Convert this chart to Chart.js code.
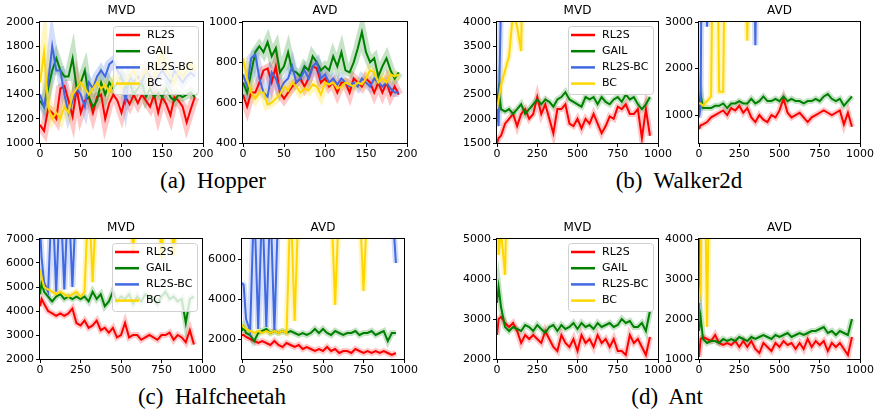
<!DOCTYPE html>
<html>
<head>
<meta charset="utf-8">
<script src="https://cdn.jsdelivr.net/npm/chart.js@4.4.0/dist/chart.umd.min.js"></script>
<style>
body { margin: 0; background: #fff; width: 877px; height: 413px; position: relative; overflow: hidden; }
.panel { position: absolute; }
.cap { position: absolute; font-family: "Liberation Serif", serif; font-size: 23px; line-height: 23px; color: #000; white-space: pre; transform: translateX(-50%); }
</style>
</head>
<body>
<div class="cap" style="left:213px;top:169px">(a)  Hopper</div>
<div class="cap" style="left:679px;top:169px">(b)  Walker2d</div>
<div class="cap" style="left:212px;top:385px">(c)  Halfcheetah</div>
<div class="cap" style="left:667px;top:385px">(d)  Ant</div>
<script>
const SERIES_NAMES = ['RL2S', 'GAIL', 'RL2S-BC', 'BC'];
const SERIES_COLORS = ['#ff0000', '#008000', '#4169e1', '#ffd700'];
const BAND_COLORS = ['rgba(255,0,0,0.22)', 'rgba(0,128,0,0.22)', 'rgba(65,105,225,0.22)', 'rgba(255,215,0,0.25)'];

// x steps
const X_HOPPER = [0,5,10,15,20,25,30,35,40,45,50,55,60,65,70,75,80,85,90,95,100,105,110,115,120,125,130,135,140,145,150,155,160,165,170,175,180,185,190];
const X_LONG = [0,10,25,50,75,100,125,150,175,200,225,250,275,300,325,350,375,400,425,450,475,500,525,550,575,600,625,650,675,700,725,750,775,800,825,850,875,900,925,950];

// tick labels
const TICKS_X_HOPPER = [0,50,100,150,200];
const TICKS_X_LONG = [0,250,500,750,1000];
const TICKS_Y_HOP_MVD = [1000,1200,1400,1600,1800,2000];
const TICKS_Y_HOP_AVD = [400,600,800,1000];
const TICKS_Y_WAL_MVD = [1500,2000,2500,3000,3500,4000];
const TICKS_Y_WAL_AVD = [1000,2000,3000];
const TICKS_Y_HC_MVD = [2000,3000,4000,5000,6000,7000];
const TICKS_Y_HC_AVD = [2000,4000,6000];
const TICKS_Y_ANT_MVD = [2000,3000,4000,5000];
const TICKS_Y_ANT_AVD = [1000,2000,3000,4000];

// Hopper
const HOP_MVD_RL2S = [1150,1100,1280,1250,1200,1450,1470,1350,1220,1450,1250,1350,1380,1250,1380,1400,1200,1330,1400,1350,1250,1380,1320,1400,1330,1400,1350,1300,1400,1250,1380,1320,1230,1380,1350,1300,1170,1280,1380];
const HOP_MVD_GAIL = [1350,1300,1450,1600,1700,1600,1550,1550,1700,1450,1500,1600,1380,1300,1350,1500,1400,1500,1450,1500,1550,1450,1500,1400,1450,1500,1380,1450,1380,1420,1380,1450,1380,1350,1400,1380,1400,1420,1380];
const HOP_MVD_RL2SBC = [1400,1300,1500,1800,1600,1600,1400,1250,1350,1450,1400,1300,1500,1450,1550,1600,1550,1650,1680,1600,1550,1350,1550,1500,1550,1500,1600,1550,1500,1550,1600,1550,1500,1600,1550,1500,1550,1580,1550];
const HOP_MVD_BC = [1500,1750,1300,1200,1250,1200,1300,1250,1400,1450,1500,1450,1400,1450,1500,1450,1480,1420,1500,1550,1450,1500,1550,1600,1500,1550,1600,1500,1550,1650,1750,1600,1550,1500,1600,1550,1600,1650,1600];
const HOP_AVD_RL2S = [640,580,650,650,700,760,770,700,780,650,620,650,680,700,720,680,720,780,770,700,720,680,700,650,700,700,650,720,700,680,720,700,650,700,650,700,640,680,640];
const HOP_AVD_GAIL = [700,650,750,850,880,850,900,830,870,750,780,850,760,750,730,780,760,830,800,760,780,760,830,780,850,760,750,800,870,950,850,800,820,730,780,820,760,720,750];
const HOP_AVD_RL2SBC = [740,680,820,840,720,650,630,750,720,660,700,720,780,700,720,760,720,780,800,720,740,700,720,690,720,700,680,700,680,720,700,680,720,700,680,700,670,650,650];
const HOP_AVD_BC = [820,720,650,620,650,650,590,600,620,640,680,660,700,680,650,670,660,690,680,640,700,690,700,670,680,700,690,680,700,690,720,760,750,700,720,700,740,730,740];

// Walker2d
const WAL_MVD_RL2S = [1500,1600,1650,1900,2000,2100,1850,2100,2200,2000,2100,2450,2100,2300,2000,1700,2200,2200,2300,1900,1850,2000,1800,2000,1900,2100,1900,1700,1850,2050,2000,2250,2200,2300,2100,2100,2200,1600,2200,1650];
const WAL_MVD_GAIL = [2300,2600,2200,2150,2200,2100,2200,2300,2100,2200,2300,2400,2300,2400,2350,2250,2400,2450,2550,2400,2350,2300,2250,2450,2400,2450,2300,2450,2350,2300,2400,2450,2350,2500,2400,2450,2300,2200,2300,2450];
const WAL_MVD_RL2SBC = [2200,1850,4500,9000,9000,9000,9000,9000,9000,9000,9000,9000,9000,9000,9000,9000,9000,9000,9000,9000,9000,9000,9000,9000,9000,9000,9000,9000,9000,9000,9000,9000,9000,9000,9000,9000,9000,9000,9000,9000];
const WAL_MVD_BC = [2200,2400,2700,3000,3300,4200,3900,3400,9000,9000,9000,9000,9000,9000,9000,9000,9000,9000,9000,9000,9000,9000,9000,9000,9000,9000,9000,9000,9000,9000,9000,9000,9000,9000,9000,9000,9000,9000,9000,9000];
const WAL_AVD_RL2S = [700,780,800,850,950,1000,1050,1100,1000,1150,1100,1200,1050,1150,950,850,1000,900,850,1000,950,1100,1350,1050,950,1000,1050,950,850,950,1000,1050,1100,1050,1000,1050,1100,800,1050,750];
const WAL_AVD_GAIL = [1100,1450,1150,1150,1150,1200,1200,1250,1150,1250,1250,1300,1250,1250,1350,1250,1300,1400,1300,1300,1350,1300,1400,1300,1350,1300,1300,1250,1300,1300,1350,1300,1400,1450,1350,1300,1350,1200,1300,1400];
const WAL_AVD_RL2SBC = [950,1150,9000,2900,9000,9000,9000,9000,9000,9000,9000,9000,9000,9000,9000,2500,9000,9000,9000,9000,9000,9000,9000,9000,9000,9000,9000,9000,9000,9000,9000,9000,9000,9000,9000,9000,9000,9000,9000,9000];
const WAL_AVD_BC = [1250,1250,1200,1300,1400,9000,1500,1500,9000,9000,9000,9000,9000,2600,9000,9000,9000,9000,9000,9000,9000,9000,9000,9000,9000,9000,9000,9000,9000,9000,9000,9000,9000,9000,9000,9000,9000,9000,9000,9000];

// Halfcheetah
const HC_MVD_RL2S = [4200,4500,4300,4000,3900,3800,3900,3800,3900,4100,3500,3400,3600,3300,3400,3600,3200,3300,3100,3300,2900,3000,3500,2900,3000,3000,2800,2900,3000,2900,2800,3000,3000,3100,2800,3000,2900,2700,3200,2600];
const HC_MVD_GAIL = [4700,5200,4800,4600,4400,4600,4700,4500,4600,4500,4600,4500,4600,4400,4800,4500,4700,4200,4400,4800,4400,4600,4500,4700,4300,4600,4400,4700,4600,4500,4300,4600,4800,4500,4600,4400,4500,3500,4500,4600];
const HC_MVD_RL2SBC = [7500,6200,5200,4800,9000,4800,9000,4900,9000,5000,9000,9000,9000,9000,9000,9000,9000,9000,9000,9000,9000,9000,9000,9000,9000,9000,9000,9000,9000,9000,9000,9000,9000,9000,9000,9000,9000,9000,9000,9000];
const HC_MVD_BC = [5700,5400,5000,4900,4800,4700,4800,4700,4600,4700,4800,4600,4800,9000,5200,9000,9000,9000,9000,9000,9000,9000,9000,9000,6500,9000,9000,9000,9000,9000,9000,6200,9000,9000,6300,9000,9000,9000,9000,9000];
const HC_AVD_RL2S = [2200,2200,2100,2000,1900,1800,1900,1800,1700,1900,1700,1600,1800,1700,1600,1700,1500,1600,1500,1400,1500,1400,1600,1400,1500,1300,1400,1400,1300,1500,1400,1300,1400,1300,1400,1300,1400,1300,1200,1300];
const HC_AVD_GAIL = [2400,2600,2300,2200,1900,2300,2400,2500,2300,2400,2300,2400,2300,2400,2300,2200,2300,2200,2300,2500,2300,2500,2300,2200,2400,2300,2200,2300,2300,2400,2200,2300,2300,2400,2200,2300,2400,1900,2300,2300];
const HC_AVD_RL2SBC = [4800,4700,3000,2400,9000,2500,9000,2600,9000,2400,9000,9000,9000,9000,9000,9000,9000,9000,9000,9000,9000,9000,9000,9000,9000,9000,9000,9000,9000,9000,9000,9000,9000,9000,9000,9000,9000,9000,9000,5800];
const HC_AVD_BC = [2700,2600,2500,2400,2300,2400,2300,2400,2300,2400,2300,2400,2300,9000,2900,9000,9000,9000,9000,9000,9000,9000,9000,9000,3700,9000,9000,9000,9000,9000,9000,4400,9000,9000,9000,9000,9000,9000,9000,9000];

// Ant
const ANT_MVD_RL2S = [2600,3000,3050,2900,2800,2900,2700,2400,2600,2500,2600,2500,2400,2700,2500,2300,2200,2600,2400,2300,2500,2200,2600,2400,2500,2300,2600,2400,2500,2300,2500,2200,2200,2100,2600,2400,2500,2300,2100,2550];
const ANT_MVD_GAIL = [3400,3800,3300,2800,2700,2800,2750,2700,2850,2800,2700,2850,2750,2650,2800,2850,2700,2850,2750,2800,2900,2750,2900,2800,2850,2750,2900,2800,2850,2900,2800,2850,3000,2900,2950,2800,2800,2900,2700,3200];
const ANT_MVD_RL2SBC = [9000,9000,9000,9000,9000,9000,9000,9000,9000,9000,9000,9000,9000,9000,9000,9000,9000,9000,9000,9000,9000,9000,9000,9000,9000,9000,9000,9000,9000,9000,9000,9000,9000,9000,9000,9000,9000,9000,9000,9000];
const ANT_MVD_BC = [9000,4600,5200,4100,9000,9000,9000,9000,9000,9000,9000,9000,9000,9000,9000,9000,9000,9000,9000,9000,9000,9000,9000,9000,9000,9000,9000,9000,9000,9000,9000,9000,9000,9000,9000,9000,9000,9000,9000,9000];
const ANT_AVD_RL2S = [1050,1500,1550,1500,1450,1600,1400,1350,1400,1350,1450,1300,1450,1300,1450,1250,1150,1400,1300,1200,1400,1300,1450,1350,1400,1250,1400,1250,1500,1300,1450,1350,1450,1200,1400,1300,1400,1250,1100,1550];
const ANT_AVD_GAIL = [1700,2050,1500,1400,1450,1450,1400,1500,1450,1500,1450,1550,1500,1450,1550,1500,1550,1600,1550,1500,1600,1550,1600,1650,1550,1600,1650,1600,1650,1700,1700,1750,1800,1650,1700,1600,1700,1650,1600,2000];
const ANT_AVD_RL2SBC = [2000,9000,9000,9000,9000,9000,9000,9000,9000,9000,9000,9000,9000,9000,9000,9000,9000,9000,9000,9000,9000,9000,9000,9000,9000,9000,9000,9000,9000,9000,9000,9000,9000,9000,9000,9000,9000,9000,9000,9000];
const ANT_AVD_BC = [2400,2850,9000,1800,9000,9000,9000,9000,9000,9000,9000,9000,9000,9000,9000,9000,9000,9000,9000,9000,9000,9000,9000,9000,9000,9000,9000,9000,9000,9000,9000,9000,9000,9000,9000,9000,9000,9000,9000,9000];

// plot area of each panel: left, top, right, bottom
const panels = [
    { area: [40, 22, 203, 143], title: 'MVD', xs: X_HOPPER, xMax: 200, xTicks: TICKS_X_HOPPER, yMin: 1000, yMax: 2000, yTicks: TICKS_Y_HOP_MVD, series: [HOP_MVD_RL2S, HOP_MVD_GAIL, HOP_MVD_RL2SBC, HOP_MVD_BC], legend: true, band: 9 },
    { area: [243, 22, 407, 143], title: 'AVD', xs: X_HOPPER, xMax: 200, xTicks: TICKS_X_HOPPER, yMin: 400, yMax: 1000, yTicks: TICKS_Y_HOP_AVD, series: [HOP_AVD_RL2S, HOP_AVD_GAIL, HOP_AVD_RL2SBC, HOP_AVD_BC], legend: false, band: 9 },
    { area: [497, 22, 658, 143], title: 'MVD', xs: X_LONG, xMax: 1000, xTicks: TICKS_X_LONG, yMin: 1500, yMax: 4000, yTicks: TICKS_Y_WAL_MVD, series: [WAL_MVD_RL2S, WAL_MVD_GAIL, WAL_MVD_RL2SBC, WAL_MVD_BC], legend: true, band: 6 },
    { area: [699, 22, 860, 143], title: 'AVD', xs: X_LONG, xMax: 1000, xTicks: TICKS_X_LONG, yMin: 400, yMax: 3000, yTicks: TICKS_Y_WAL_AVD, series: [WAL_AVD_RL2S, WAL_AVD_GAIL, WAL_AVD_RL2SBC, WAL_AVD_BC], legend: false, band: 6 },
    { area: [40, 239, 202, 359], title: 'MVD', xs: X_LONG, xMax: 1000, xTicks: TICKS_X_LONG, yMin: 2000, yMax: 7000, yTicks: TICKS_Y_HC_MVD, series: [HC_MVD_RL2S, HC_MVD_GAIL, HC_MVD_RL2SBC, HC_MVD_BC], legend: true, band: 6 },
    { area: [242, 239, 404, 359], title: 'AVD', xs: X_LONG, xMax: 1000, xTicks: TICKS_X_LONG, yMin: 1000, yMax: 7000, yTicks: TICKS_Y_HC_AVD, series: [HC_AVD_RL2S, HC_AVD_GAIL, HC_AVD_RL2SBC, HC_AVD_BC], legend: false, band: 6 },
    { area: [497, 239, 658, 359], title: 'MVD', xs: X_LONG, xMax: 1000, xTicks: TICKS_X_LONG, yMin: 2000, yMax: 5000, yTicks: TICKS_Y_ANT_MVD, series: [ANT_MVD_RL2S, ANT_MVD_GAIL, ANT_MVD_RL2SBC, ANT_MVD_BC], legend: true, band: 6 },
    { area: [699, 239, 860, 359], title: 'AVD', xs: X_LONG, xMax: 1000, xTicks: TICKS_X_LONG, yMin: 1000, yMax: 4000, yTicks: TICKS_Y_ANT_AVD, series: [ANT_AVD_RL2S, ANT_AVD_GAIL, ANT_AVD_RL2SBC, ANT_AVD_BC], legend: false, band: 6 }
];

const Y_AXIS_W = 45;
const X_AXIS_H = 22;
const PAD_TOP = 20;
const PAD_RIGHT = 15;
const FONT = '"DejaVu Sans", sans-serif';

function makeDecor(p) {
    return {
        id: 'decor',
        afterDatasetsDraw(chart) {
            const ctx = chart.ctx;
            const a = chart.chartArea;
            ctx.save();
            // frame
            ctx.strokeStyle = '#000';
            ctx.lineWidth = 1;
            ctx.strokeRect(Math.round(a.left) - 0.5, Math.round(a.top) - 0.5, Math.round(a.right - a.left) + 1, Math.round(a.bottom - a.top) + 1);
            // title
            ctx.fillStyle = '#000';
            ctx.font = '12px ' + FONT;
            ctx.textAlign = 'center';
            ctx.textBaseline = 'middle';
            ctx.fillText(p.title, (a.left + a.right) / 2, a.top - 11);
            // legend
            if (p.legend) {
                const bw = 85, bh = 68;
                const bx = a.right - bw - 5, by = a.top + 4;
                ctx.beginPath();
                ctx.roundRect(bx + 0.5, by + 0.5, bw, bh, 3);
                ctx.fillStyle = 'rgba(255,255,255,0.8)';
                ctx.fill();
                ctx.strokeStyle = '#d0d0d0';
                ctx.stroke();
                ctx.font = '11px ' + FONT;
                ctx.textAlign = 'left';
                SERIES_NAMES.forEach((name, i) => {
                    const ry = by + 9 + i * 16.2;
                    ctx.strokeStyle = SERIES_COLORS[i];
                    ctx.lineWidth = 2.5;
                    ctx.beginPath();
                    ctx.moveTo(bx + 3, ry);
                    ctx.lineTo(bx + 27, ry);
                    ctx.stroke();
                    ctx.fillStyle = '#000';
                    ctx.fillText(name, bx + 34, ry);
                });
            }
            ctx.restore();
        }
    };
}

panels.forEach(p => {
    const [L, T, R, B] = p.area;
    const w = R - L + Y_AXIS_W + PAD_RIGHT;
    const h = B - T + PAD_TOP + X_AXIS_H;
    const div = document.createElement('div');
    div.className = 'panel';
    div.style.left = (L - Y_AXIS_W) + 'px';
    div.style.top = (T - PAD_TOP) + 'px';
    const canvas = document.createElement('canvas');
    canvas.width = w;
    canvas.height = h;
    canvas.style.width = w + 'px';
    canvas.style.height = h + 'px';
    div.appendChild(canvas);
    document.body.appendChild(div);

    const datasets = [];
    p.series.forEach((ys, i) => {
        const pts = p.xs.map((x, k) => ({ x: x, y: ys[k] }));
        // line on top; BC drawn last like matplotlib
        datasets.push({
            label: SERIES_NAMES[i],
            data: pts,
            borderColor: SERIES_COLORS[i],
            borderWidth: 2,
            pointRadius: 0,
            tension: 0,
            clip: 0,
            order: 3 - i
        });
        // shaded spread behind it
        datasets.push({
            label: SERIES_NAMES[i] + ' band',
            data: pts,
            borderColor: BAND_COLORS[i],
            borderWidth: p.band,
            pointRadius: 0,
            tension: 0,
            clip: 0,
            order: 20 - i
        });
    });

    new Chart(canvas, {
        type: 'line',
        data: { datasets: datasets },
        options: {
            responsive: false,
            animation: false,
            devicePixelRatio: 1,
            layout: { padding: { top: PAD_TOP, right: PAD_RIGHT, left: 0, bottom: 0 } },
            plugins: { legend: { display: false }, tooltip: { enabled: false } },
            scales: {
                x: {
                    type: 'linear',
                    min: 0,
                    max: p.xMax,
                    afterFit: s => { s.height = X_AXIS_H; },
                    afterBuildTicks: s => { s.ticks = p.xTicks.map(v => ({ value: v })); },
                    grid: { drawOnChartArea: false, tickLength: 4, color: '#000' },
                    border: { display: false },
                    ticks: { color: '#000', font: { size: 11, family: FONT }, padding: 1, maxRotation: 0, autoSkip: false, callback: v => String(v) }
                },
                y: {
                    type: 'linear',
                    min: p.yMin,
                    max: p.yMax,
                    afterFit: s => { s.width = Y_AXIS_W; },
                    afterBuildTicks: s => { s.ticks = p.yTicks.map(v => ({ value: v })); },
                    grid: { drawOnChartArea: false, tickLength: 4, color: '#000' },
                    border: { display: false },
                    ticks: { color: '#000', font: { size: 11, family: FONT }, padding: 2, autoSkip: false, callback: v => String(v) }
                }
            }
        },
        plugins: [makeDecor(p)]
    });
});
</script>
</body>
</html>
